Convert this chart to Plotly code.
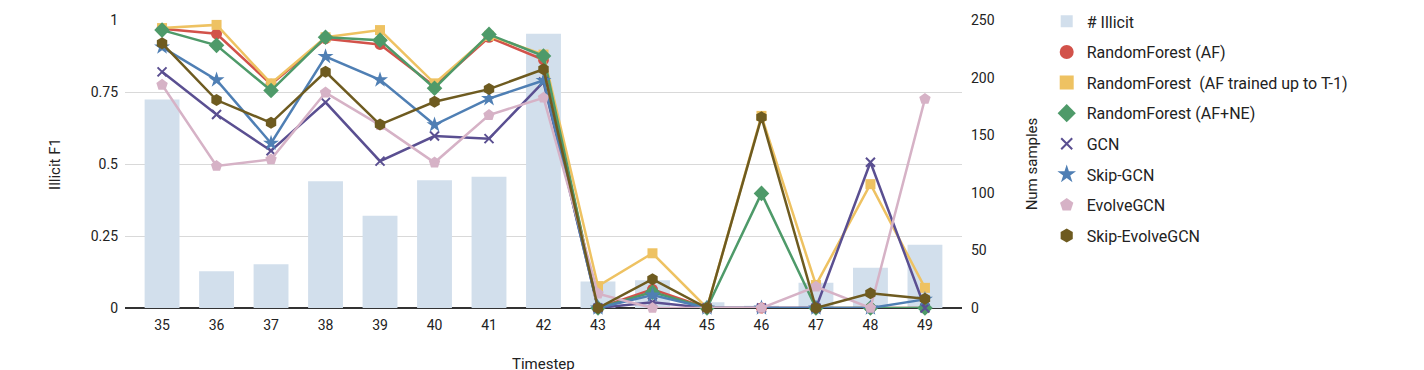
import plotly.graph_objects as go

timesteps = ["35", "36", "37", "38", "39", "40", "41", "42", "43", "44", "45", "46", "47", "48", "49"]
num_illicit = [181, 32, 38, 110, 80, 111, 114, 238, 23, 24, 5, 2, 22, 35, 55]

rf_af = [0.97, 0.952, 0.777, 0.935, 0.915, 0.77, 0.94, 0.862, 0.0, 0.065, 0.0, 0.0, 0.0, 0.0, 0.0]
rf_af_t1 = [0.972, 0.983, 0.78, 0.94, 0.965, 0.78, 0.945, 0.88, 0.076, 0.19, 0.0, 0.667, 0.08, 0.43, 0.07]
rf_af_ne = [0.965, 0.912, 0.755, 0.94, 0.93, 0.763, 0.95, 0.875, 0.0, 0.055, 0.0, 0.398, 0.0, 0.0, 0.0]
gcn = [0.82, 0.672, 0.546, 0.714, 0.51, 0.597, 0.588, 0.785, 0.0, 0.02, 0.0, 0.0, 0.0, 0.506, 0.0]
skip_gcn = [0.906, 0.792, 0.572, 0.873, 0.792, 0.636, 0.727, 0.79, 0.0, 0.045, 0.0, 0.0, 0.0, 0.0, 0.03]
evolve_gcn = [0.775, 0.493, 0.516, 0.748, 0.635, 0.505, 0.67, 0.73, 0.05, 0.0, 0.0, 0.0, 0.074, 0.0, 0.726]
skip_evolve_gcn = [0.919, 0.722, 0.643, 0.82, 0.637, 0.716, 0.76, 0.829, 0.0, 0.1, 0.0, 0.662, 0.0, 0.051, 0.032]

series = [
    ("RandomForest (AF)", rf_af, "#d2524a", "circle", 11),
    ("RandomForest  (AF trained up to T-1)", rf_af_t1, "#eec262", "square", 10),
    ("RandomForest (AF+NE)", rf_af_ne, "#4e9a69", "diamond", 12),
    ("GCN", gcn, "#5a4f91", "x-thin", 9),
    ("Skip-GCN", skip_gcn, "#4f7fb4", "star", 12),
    ("EvolveGCN", evolve_gcn, "#d6b2c6", "pentagon", 12),
    ("Skip-EvolveGCN", skip_evolve_gcn, "#6e5b20", "hexagon", 12),
]

FONT = "Roboto"
TXT = "#222222"

fig = go.Figure()

fig.add_trace(go.Bar(
    x=timesteps, y=num_illicit, name="# Illicit", yaxis="y",
    marker=dict(color="#d2dfec", line=dict(width=0)),
    width=0.64, legendgroup="g0",
))

for i, (name, vals, color, sym, size) in enumerate(series):
    mk = dict(color=color, size=size, symbol=sym)
    if sym == "x-thin":
        mk["line"] = dict(color=color, width=2)
    fig.add_trace(go.Scatter(
        x=timesteps, y=vals, name=name, yaxis="y2", mode="lines+markers",
        line=dict(color=color, width=2.5), marker=mk, cliponaxis=False,
        showlegend=False, legendgroup=f"g{i+1}",
    ))

# legend entries showing only the marker symbol
for i, (name, vals, color, sym, size) in enumerate(series):
    mk = dict(color=color, size=14, symbol=sym)
    if sym == "x-thin":
        mk["line"] = dict(color=color, width=2)
        mk["size"] = 11
    fig.add_trace(go.Scatter(
        x=[None], y=[None], name=name, yaxis="y2", mode="markers",
        marker=mk, showlegend=True, legendgroup=f"g{i+1}",
    ))

fig.update_layout(
    width=1424, height=370,
    margin=dict(l=117, r=470, t=12, b=70, autoexpand=False),
    paper_bgcolor="white", plot_bgcolor="white",
    font=dict(family=FONT, color=TXT, size=14),
    xaxis=dict(
        type="category", range=[-0.68, 14.68], showgrid=False, showline=False,
        ticks="", tickfont=dict(size=14, color=TXT), zeroline=False,
        ticklabelstandoff=7,
    ),
    yaxis=dict(
        side="right", range=[0, 250], tickvals=[0, 50, 100, 150, 200, 250],
        showgrid=False, zeroline=False, showline=False, ticks="",
        tickfont=dict(size=14, color=TXT), ticklabelstandoff=8,
        title=dict(text="Num samples", font=dict(size=15, color=TXT), standoff=32),
    ),
    yaxis2=dict(
        overlaying="y", side="left", range=[0, 1],
        tickvals=[0, 0.25, 0.5, 0.75, 1], ticktext=["0", "0.25", "0.5", "0.75", "1"],
        showgrid=True, gridcolor="#d9d9d9", gridwidth=1,
        zeroline=True, zerolinecolor="#333333", zerolinewidth=1.5,
        showline=False, ticks="", tickfont=dict(size=14, color=TXT),
        ticklabelstandoff=6,
        title=dict(text="Illicit F1", font=dict(size=15, color=TXT), standoff=26),
    ),
    legend=dict(
        x=1.1012, y=1.054, xanchor="left", yanchor="top",
        font=dict(size=16, color=TXT), tracegroupgap=6.8,
        bgcolor="rgba(0,0,0,0)", traceorder="grouped", maxheight=400,
    ),
    showlegend=True,
)

fig.add_annotation(
    text="Timestep", xref="paper", yref="paper", x=0.5, y=-0.194,
    xanchor="center", yanchor="middle", showarrow=False,
    font=dict(size=15, color=TXT),
)

fig.write_html("out.html")
